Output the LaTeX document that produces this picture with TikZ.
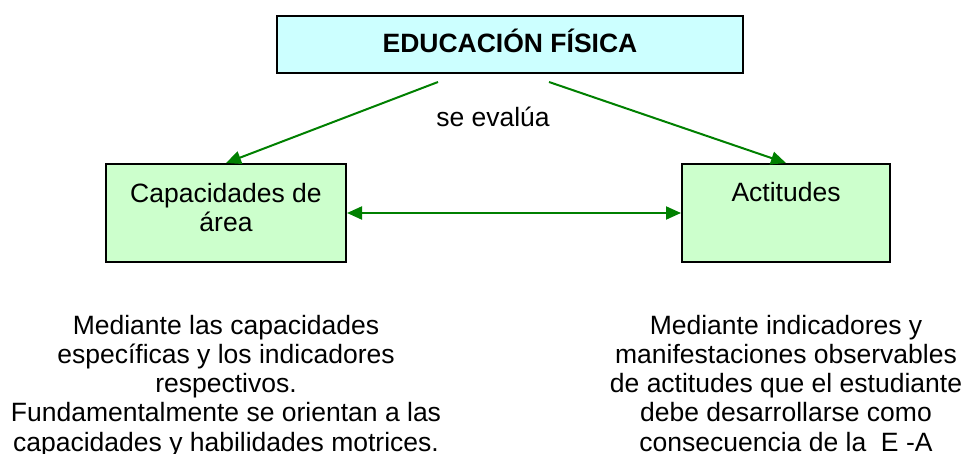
\documentclass[tikz,border=0pt]{standalone}
\usepackage{fontspec}
\setmainfont{Liberation Sans}
\usetikzlibrary{arrows.meta}
\definecolor{topfill}{HTML}{CCFFFF}
\definecolor{boxfill}{HTML}{CCFFCC}
\definecolor{arrowgreen}{HTML}{008000}
\begin{document}
\begin{tikzpicture}[x=1pt,y=-1pt,
  txt/.style={font=\fontsize{26.5}{29.3}\selectfont, inner sep=0pt},
  frame/.style={draw=black, line width=2pt, inner sep=0pt},
  conn/.style={draw=arrowgreen, line width=2pt, -{Triangle[length=15pt,width=13pt]}}]
\useasboundingbox (0,0) rectangle (965,454);
\node[frame, fill=topfill, minimum width=466pt, minimum height=57pt,
      font=\bfseries\fontsize{26.5}{29.3}\selectfont, text height=17pt, text depth=0pt] (top) at (510,44.5) {EDUCACIÓN FÍSICA};
\node[frame, fill=boxfill, minimum width=240pt, minimum height=98pt] (cap) at (226,213) {};
\node[txt, align=center, anchor=base] (captxt) at (226,232) {Capacidades de\\área};
\node[frame, fill=boxfill, minimum width=208pt, minimum height=98pt] (act) at (786,213) {};
\node[txt, anchor=base] (acttxt) at (786,202) {Actitudes};
\node[txt, anchor=base] (eval) at (493,127) {se evalúa};
\coordinate (s1) at ([xshift=-72pt,yshift=-8pt]top.south);
\coordinate (s2) at ([xshift=39pt,yshift=-8pt]top.south);
\draw[conn] (s1) -- (cap.north);
\draw[conn] (s2) -- (act.north);
\draw[conn, {Triangle[length=15pt,width=13pt]}-{Triangle[length=15pt,width=13pt]}] (cap.east) -- (act.west);
\node[txt, align=center, anchor=base] (lefttxt) at (226,451.2) {Mediante las capacidades\\específicas y los indicadores\\respectivos.\\Fundamentalmente se orientan a las\\capacidades y habilidades motrices.};
\node[txt, align=center, anchor=base] (righttxt) at (786,451.2) {Mediante indicadores y\\manifestaciones observables\\de actitudes que el estudiante\\debe desarrollarse como\\consecuencia de la\ \ E -A};
\end{tikzpicture}
\end{document}
